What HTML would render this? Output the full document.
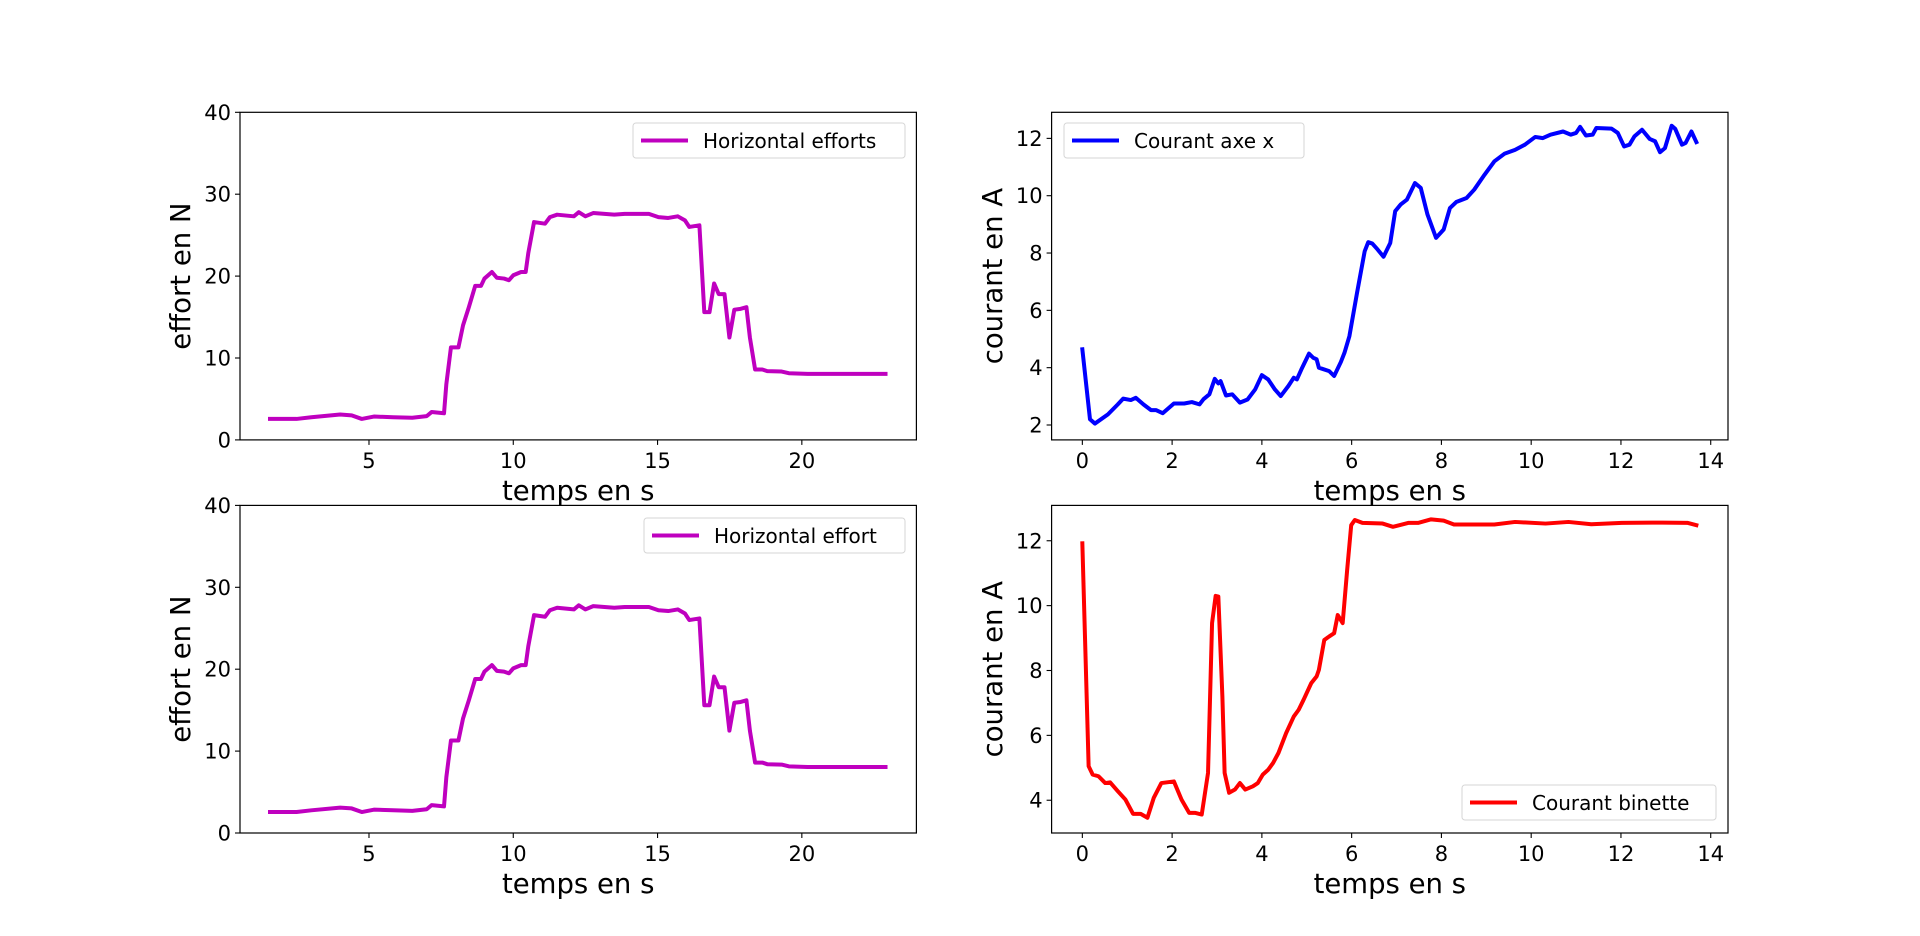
<!DOCTYPE html>
<html><head><meta charset="utf-8"><style>
html,body{margin:0;padding:0;background:#fff;}
svg{display:block;font-family:"DejaVu Sans","Liberation Sans",sans-serif;}
</style></head><body>
<svg id="fig" width="1920" height="936" viewBox="0 0 1920 936"></svg>
<script>
// ---- data: effort (same in both left panels) ----
const effortT=[1.57,2.49,3.0,4.0,4.4,4.75,5.17,5.84,6.5,7.0,7.17,7.6,7.68,7.84,8.1,8.26,8.46,8.68,8.88,9.0,9.26,9.43,9.68,9.85,10.0,10.27,10.43,10.52,10.72,11.1,11.27,11.52,12.1,12.27,12.5,12.77,13.5,13.86,14.7,15.03,15.37,15.7,15.95,16.1,16.45,16.62,16.8,16.96,17.12,17.32,17.49,17.66,17.88,18.08,18.2,18.38,18.63,18.8,19.3,19.55,20.2,22.9];
const effortV=[2.56,2.56,2.77,3.1,3.0,2.56,2.85,2.77,2.7,2.9,3.4,3.25,6.8,11.3,11.3,14.0,16.2,18.8,18.8,19.7,20.5,19.8,19.7,19.5,20.1,20.5,20.5,22.8,26.6,26.4,27.2,27.5,27.3,27.8,27.3,27.7,27.5,27.6,27.6,27.2,27.1,27.3,26.8,26.0,26.2,15.6,15.6,19.1,17.8,17.8,12.5,15.9,16.0,16.2,12.5,8.6,8.6,8.4,8.35,8.14,8.06,8.06];
// ---- data: courant axe x ----
const axeT=[0,0.17,0.28,0.57,0.79,0.91,1.08,1.19,1.36,1.53,1.64,1.79,2.04,2.27,2.44,2.61,2.70,2.83,2.95,3.03,3.08,3.2,3.34,3.51,3.68,3.85,4.0,4.14,4.29,4.42,4.59,4.71,4.78,4.88,5.05,5.14,5.22,5.27,5.5,5.61,5.76,5.84,5.95,6.12,6.29,6.37,6.46,6.58,6.71,6.86,6.97,7.09,7.23,7.41,7.54,7.69,7.88,8.05,8.19,8.33,8.56,8.73,8.96,9.18,9.41,9.64,9.86,10.09,10.26,10.43,10.71,10.88,11.0,11.09,11.22,11.37,11.45,11.79,11.93,12.07,12.19,12.3,12.47,12.64,12.76,12.87,12.98,13.13,13.21,13.36,13.44,13.57,13.68];
const axeV=[4.64,2.2,2.05,2.37,2.72,2.92,2.87,2.95,2.72,2.52,2.52,2.41,2.75,2.75,2.8,2.72,2.9,3.07,3.61,3.45,3.53,3.03,3.07,2.78,2.89,3.24,3.74,3.59,3.24,3.01,3.36,3.65,3.59,3.94,4.49,4.35,4.29,4.0,3.88,3.71,4.2,4.52,5.1,6.61,8.06,8.38,8.33,8.12,7.87,8.35,9.46,9.69,9.86,10.44,10.27,9.34,8.53,8.82,9.57,9.78,9.92,10.21,10.73,11.2,11.47,11.6,11.78,12.05,12.01,12.13,12.24,12.13,12.19,12.4,12.1,12.13,12.36,12.34,12.19,11.72,11.78,12.07,12.3,11.98,11.9,11.52,11.66,12.44,12.33,11.78,11.84,12.24,11.87];
// ---- data: courant binette ----
const binT=[0,0.14,0.23,0.36,0.51,0.62,0.79,0.96,1.13,1.3,1.45,1.59,1.76,2.04,2.21,2.38,2.52,2.66,2.8,2.89,2.97,3.03,3.12,3.17,3.27,3.4,3.51,3.63,3.8,3.91,4.02,4.14,4.25,4.37,4.54,4.71,4.82,4.93,5.1,5.22,5.27,5.39,5.5,5.61,5.69,5.8,5.9,5.99,6.07,6.24,6.69,6.92,7.26,7.48,7.77,8.05,8.28,9.18,9.64,10.32,10.83,11.34,12.02,12.93,13.49,13.68];
const binV=[11.92,5.05,4.79,4.74,4.53,4.55,4.28,4.02,3.58,3.58,3.46,4.07,4.53,4.58,4.02,3.61,3.61,3.56,4.84,9.46,10.3,10.28,7.2,4.84,4.23,4.33,4.53,4.33,4.43,4.53,4.79,4.94,5.15,5.46,6.07,6.58,6.79,7.1,7.61,7.82,8.02,8.94,9.05,9.15,9.71,9.46,11.1,12.48,12.64,12.55,12.53,12.43,12.55,12.55,12.66,12.62,12.5,12.5,12.58,12.53,12.58,12.51,12.55,12.56,12.55,12.48];
// ---- ticks ----
const effortXTicks=[5,10,15,20];
const effortYTicks=[0,10,20,30,40];
const courantXTicks=[0,2,4,6,8,10,12,14];
const axeYTicks=[2,4,6,8,10,12];
const binYTicks=[4,6,8,10,12];

const NS='http://www.w3.org/2000/svg';
const fig=document.getElementById('fig');
function mk(tag,attrs,parent){const e=document.createElementNS(NS,tag);for(const k in attrs)e.setAttribute(k,attrs[k]);(parent||fig).appendChild(e);return e;}

function panel(o){
  const g=mk('g',{});
  
  
  const sx=v=>o.x0+(v-o.xmin)/(o.xmax-o.xmin)*(o.x1-o.x0);
  const sy=v=>o.y1-(v-o.ymin)/(o.ymax-o.ymin)*(o.y1-o.y0);
  const d=o.t.map((t,i)=>(i?'L':'M')+sx(t).toFixed(2)+','+sy(o.v[i]).toFixed(2)).join(' ');
  const cp=mk('clipPath',{id:o.name+'-clip'},g);
  mk('rect',{x:o.x0,y:o.y0,width:o.x1-o.x0,height:o.y1-o.y0},cp);
  const line=mk('path',{d:d,fill:'none',stroke:o.color,'stroke-width':4,'stroke-linejoin':'round','stroke-linecap':'square','clip-path':'url(#'+o.name+'-clip)'},g);
  
  
  const fr=mk('rect',{x:o.x0,y:o.y0,width:o.x1-o.x0,height:o.y1-o.y0,fill:'none',stroke:'#000','stroke-width':1.2},g);
  
  
  o.xt.forEach(v=>{
    const x=sx(v);
    mk('line',{x1:x,x2:x,y1:o.y1,y2:o.y1+5,stroke:'#000','stroke-width':1.1},g);
    const t=mk('text',{x:x,y:o.y1+28,'font-size':21,'text-anchor':'middle'},g);
    t.textContent=v;
    
    
  });
  o.yt.forEach(v=>{
    const y=sy(v);
    mk('line',{x1:o.x0-5,x2:o.x0,y1:y,y2:y,stroke:'#000','stroke-width':1.1},g);
    const t=mk('text',{x:o.x0-9,y:y+7.5,'font-size':21,'text-anchor':'end'},g);
    t.textContent=v;
    
    
  });
  const xl=mk('text',{x:(o.x0+o.x1)/2,y:o.y1+60,'font-size':27.5,'text-anchor':'middle'},g);
  xl.textContent='temps en s';
  
  
  const cy=(o.y0+o.y1)/2, cx=o.ylx;
  const yl=mk('text',{x:cx,y:cy,'font-size':27.5,'text-anchor':'middle',transform:'rotate(-90 '+cx+' '+cy+')'},g);
  yl.textContent=o.ylabel;
  
  
  const lg=mk('g',{},g);
  
  
  mk('rect',{x:o.lx,y:o.ly,width:o.lw,height:35,rx:3,fill:'#fff','fill-opacity':0.8,stroke:'#d6d6d6','stroke-width':1},lg);
  mk('line',{x1:o.lx+8,x2:o.lx+55,y1:o.ly+17.5,y2:o.ly+17.5,stroke:o.color,'stroke-width':4},lg);
  const lt=mk('text',{x:o.lx+70,y:o.ly+25,'font-size':20},lg);
  lt.textContent=o.label;
  
  
}

const L0=240,L1=916.4,R0=1051.6,R1=1728,T0=112.3,T1=439.9,B0=505.4,B1=833;
panel({name:'effort-top',x0:L0,x1:L1,y0:T0,y1:T1,xmin:0.53,xmax:23.97,ymin:0,ymax:40,t:effortT,v:effortV,color:'#bf00bf',xt:effortXTicks,yt:effortYTicks,ylabel:'effort en N',ylx:190,label:'Horizontal efforts',lx:633,ly:123,lw:272});
panel({name:'courant-axe-x',x0:R0,x1:R1,y0:T0,y1:T1,xmin:-0.685,xmax:14.385,ymin:1.48,ymax:12.91,t:axeT,v:axeV,color:'#0000ff',xt:courantXTicks,yt:axeYTicks,ylabel:'courant en A',ylx:1002,label:'Courant axe x',lx:1064,ly:123,lw:240});
panel({name:'effort-bottom',x0:L0,x1:L1,y0:B0,y1:B1,xmin:0.53,xmax:23.97,ymin:0,ymax:40,t:effortT,v:effortV,color:'#bf00bf',xt:effortXTicks,yt:effortYTicks,ylabel:'effort en N',ylx:190,label:'Horizontal effort',lx:644,ly:518,lw:261});
panel({name:'courant-binette',x0:R0,x1:R1,y0:B0,y1:B1,xmin:-0.685,xmax:14.385,ymin:2.99,ymax:13.09,t:binT,v:binV,color:'#ff0000',xt:courantXTicks,yt:binYTicks,ylabel:'courant en A',ylx:1002,label:'Courant binette',lx:1462,ly:785,lw:254});
</script>
</body></html>
